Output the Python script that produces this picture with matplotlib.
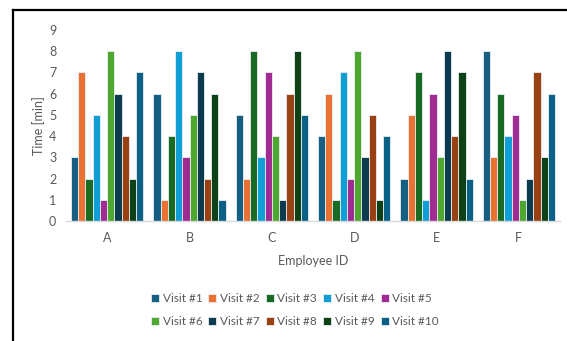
import numpy as np
import matplotlib
matplotlib.use("Agg")
import matplotlib.pyplot as plt
from matplotlib.lines import Line2D

employees = ["A", "B", "C", "D", "E", "F"]
series_names = [f"Visit #{i}" for i in range(1, 11)]
visit1 = [3, 6, 5, 4, 2, 8]
visit2 = [7, 1, 2, 6, 5, 3]
visit3 = [2, 4, 8, 1, 7, 6]
visit4 = [5, 8, 3, 7, 1, 4]
visit5 = [1, 3, 7, 2, 6, 5]
visit6 = [8, 5, 4, 8, 3, 1]
visit7 = [6, 7, 1, 3, 8, 2]
visit8 = [4, 2, 6, 5, 4, 7]
visit9 = [2, 6, 8, 1, 7, 3]
visit10 = [7, 1, 5, 4, 2, 6]
series = [visit1, visit2, visit3, visit4, visit5, visit6, visit7, visit8, visit9, visit10]
colors = ["#156082", "#E97132", "#196B24", "#0F9ED5", "#A02B93",
          "#4EA72E", "#0C3A4F", "#9A4114", "#0F4116", "#0B6185"]
yticks = list(range(0, 10))

plt.rcParams['font.family'] = ['Lato', 'DejaVu Sans']
fig = plt.figure(figsize=(5.67, 3.41), dpi=100)
ax = fig.add_axes([0.1164, 0.352, 0.8713, 0.560])

n = len(series)
group_w = 0.88
bw = group_w / n
x = np.arange(len(employees))
handles = []
for i, (vals, c, name) in enumerate(zip(series, colors, series_names)):
    h = ax.bar(x - group_w / 2 + bw * (i + 0.5), vals, width=bw, color=c,
               edgecolor="#e8eef2", linewidth=0.6, label=name)
    handles.append(h)

ax.set_xlim(-0.5, len(employees) - 0.5)
ax.set_ylim(0, 9)
ax.set_yticks(yticks)
ax.set_xticks(x)
ax.set_xticklabels(employees)
for s in ["top", "right", "left"]:
    ax.spines[s].set_visible(False)
ax.spines["bottom"].set_color("#d9d9d9")
ax.spines["bottom"].set_linewidth(1.0)
ax.tick_params(axis="both", length=0, colors="#595959", labelsize=9)
ax.tick_params(axis="x", pad=8)
ax.tick_params(axis="y", pad=7)
ax.set_ylabel("Time [min]", color="#595959", fontsize=9, labelpad=3)
ax.set_xlabel("Employee ID", color="#595959", fontsize=9, labelpad=8)

# row-wise legend order (matplotlib fills column-wise)
ncol = 5
order = []
for c in range(ncol):
    order += [c, c + ncol]
leg = fig.legend([handles[k] for k in order], [series_names[k] for k in order],
                 loc="center", bbox_to_anchor=(0.52, 0.09), ncol=ncol, frameon=False,
                 fontsize=8.5, handlelength=0.7, handleheight=0.7, handletextpad=0.3,
                 columnspacing=0.5, labelspacing=1.0)
for t in leg.get_texts():
    t.set_color("#595959")

# outer frame (cropped chart border)
fig.add_artist(Line2D([0.023, 1.0], [0.971, 0.971], color="black", lw=1.6,
                      transform=fig.transFigure))
fig.add_artist(Line2D([0.023, 0.023], [0.0, 0.971], color="black", lw=1.6,
                      transform=fig.transFigure))

fig.savefig("out.png", dpi=100)
